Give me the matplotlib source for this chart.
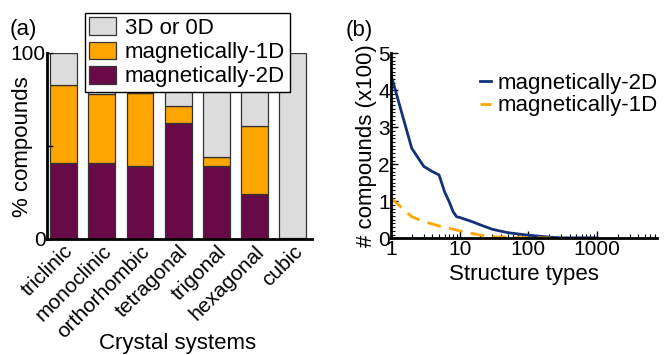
import matplotlib
matplotlib.use("Agg")
import matplotlib.pyplot as plt
import numpy as np
from matplotlib.ticker import MultipleLocator, LogLocator, NullFormatter

plt.rcParams['font.family'] = ['Liberation Sans', 'DejaVu Sans']

# ---- data panel (a) ----
systems = ["triclinic", "monoclinic", "orthorhombic", "tetragonal", "trigonal", "hexagonal", "cubic"]
pct_2d = [40.8, 41.0, 39.3, 62.5, 39.3, 24.1, 0.5]
pct_1d = [42.0, 36.7, 39.0, 9.0, 4.7, 36.6, 0.0]
pct_3d = [100 - a - b for a, b in zip(pct_2d, pct_1d)]

# ---- data panel (b) ----
rank_2d = [1, 2, 3, 4, 5, 6, 7, 8, 9, 10, 15, 20, 30, 50, 100, 200, 300, 1000]
count_2d = [4.41, 2.43, 1.94, 1.80, 1.71, 1.26, 0.99, 0.72, 0.58, 0.56, 0.45, 0.36, 0.24, 0.15, 0.08, 0.03, 0.01, 0.01]
rank_1d = [1, 2, 3, 5, 10, 19, 30, 100, 300]
count_1d = [1.08, 0.58, 0.45, 0.33, 0.20, 0.09, 0.04, 0.01, 0.005]

c2d = '#680A48'
c1d = '#FFA500'
c3d = '#DCDCDC'
cblue = '#13307A'

fig = plt.figure(figsize=(6.64, 3.55), dpi=100)

# ---------- panel (a) ----------
ax = fig.add_axes([0.0708, 0.327, 0.399, 0.524])
x = np.arange(len(systems))
w = 0.70
b2 = ax.bar(x, pct_2d, w, color=c2d, edgecolor='#333333', linewidth=0.9, label='magnetically-2D')
b1 = ax.bar(x, pct_1d, w, bottom=pct_2d, color=c1d, edgecolor='#333333', linewidth=0.9, label='magnetically-1D')
b3 = ax.bar(x, pct_3d, w, bottom=np.array(pct_2d) + np.array(pct_1d), color=c3d,
            edgecolor='#333333', linewidth=0.9, label='3D or 0D')
ax.set_xlim(-0.43, 6.5)
ax.set_ylim(0, 100)
for s in ['top', 'right']:
    ax.spines[s].set_visible(False)
for s in ['left', 'bottom']:
    ax.spines[s].set_linewidth(2)
ax.set_yticks([0, 50, 100])
ax.set_yticklabels(['0', '', '100'])
ax.tick_params(axis='y', direction='in', length=4, width=1, labelsize=15, pad=1)
ax.tick_params(axis='x', length=0, labelsize=15, pad=2)
ax.set_xticks(x)
ax.set_xticklabels(systems, rotation=45, ha='right', va='top', rotation_mode='anchor')
ax.set_ylabel('% compounds', fontsize=16)
ax.yaxis.set_label_coords(-0.053, 0.495)
ax.set_xlabel('Crystal systems', fontsize=16)
ax.xaxis.set_label_coords(0.494, -0.505)
leg = ax.legend(handles=[b3, b1, b2], loc='upper left', bbox_to_anchor=(0.143, 1.215),
                borderaxespad=0, fontsize=16, frameon=True, fancybox=False,
                handlelength=1.2, handleheight=0.85, handletextpad=0.4,
                labelspacing=0.12, borderpad=0.2, framealpha=1)
leg.get_frame().set_edgecolor('black')
leg.get_frame().set_linewidth(1.0)
fig.text(0.014, 0.918, '(a)', fontsize=16, ha='left', va='center')

# ---------- panel (b) ----------
bx = fig.add_axes([0.589, 0.329, 0.400, 0.521])
bx.plot(rank_2d, count_2d, color=cblue, lw=2, label='magnetically-2D')
bx.plot(rank_1d, count_1d, color=c1d, lw=2, dashes=(5, 3), label='magnetically-1D')
bx.set_xscale('log')
bx.set_xlim(1, 7400)
bx.set_ylim(0, 5)
for s in ['top', 'right']:
    bx.spines[s].set_visible(False)
for s in ['left', 'bottom']:
    bx.spines[s].set_linewidth(2)
bx.set_xticks([1, 10, 100, 1000])
bx.set_xticklabels(['1', '10', '100', '1000'])
bx.xaxis.set_minor_locator(LogLocator(base=10, subs=np.arange(2, 10), numticks=20))
bx.xaxis.set_minor_formatter(NullFormatter())
bx.set_yticks([0, 1, 2, 3, 4, 5])
bx.yaxis.set_minor_locator(MultipleLocator(0.1))
bx.tick_params(which='major', direction='in', length=5, width=1, labelsize=15, pad=1)
bx.tick_params(which='minor', direction='in', length=3, width=0.8)
bx.set_ylabel('# compounds (x100)', fontsize=16, labelpad=1)
bx.set_xlabel('Structure types', fontsize=16, labelpad=4)
bx.legend(loc='upper left', bbox_to_anchor=(0.30, 0.94), borderaxespad=0, frameon=False,
          fontsize=16, handlelength=0.5, handletextpad=0.3, labelspacing=0.05)
fig.text(0.520, 0.915, '(b)', fontsize=16, ha='left', va='center')

fig.savefig('out.png', dpi=100)
